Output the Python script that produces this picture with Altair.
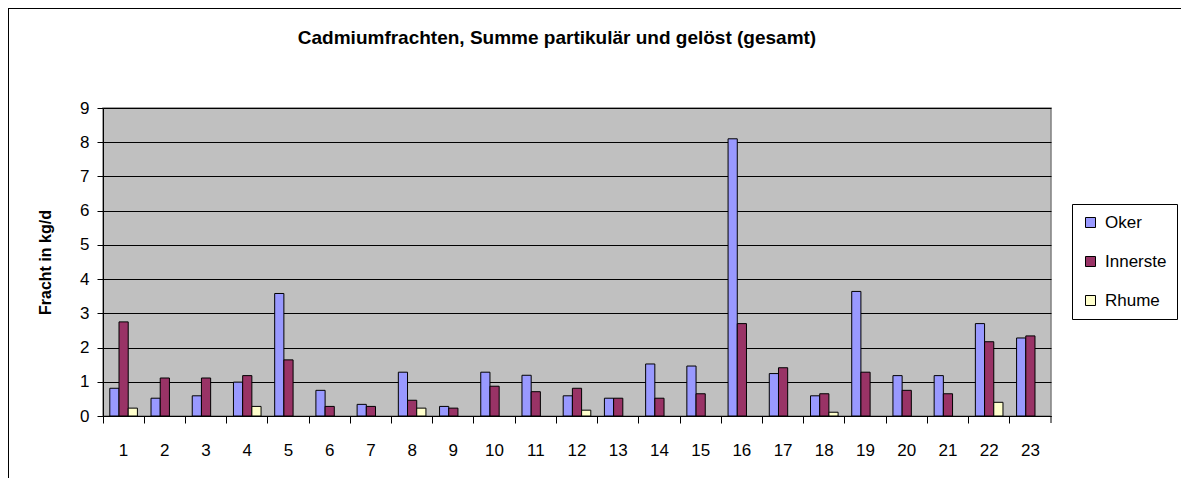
import altair as alt
import pandas as pd

categories = [str(i) for i in range(1, 24)]
series = ["Oker", "Innerste", "Rhume"]
colors = ["#9999FF", "#993366", "#FFFFCC"]

oker = [0.81, 0.52, 0.59, 0.99, 3.58, 0.75, 0.34, 1.28, 0.28, 1.28, 1.19, 0.59,
        0.52, 1.52, 1.46, 8.10, 1.24, 0.59, 3.64, 1.18, 1.18, 2.70, 2.28]
innerste = [2.75, 1.11, 1.11, 1.18, 1.64, 0.28, 0.28, 0.46, 0.23, 0.87, 0.71, 0.81,
            0.52, 0.52, 0.65, 2.70, 1.41, 0.65, 1.28, 0.75, 0.65, 2.17, 2.34]
rhume = [0.23, None, None, 0.28, None, None, None, 0.23, None, None, None, 0.17,
         None, None, None, None, None, 0.11, None, None, None, 0.40, None]

rows = []
for i, c in enumerate(categories):
    for s, vals in zip(series, [oker, innerste, rhume]):
        v = vals[i]
        if v is not None:
            rows.append({"Messstelle": c, "Fluss": s, "Fracht": v})
df = pd.DataFrame(rows)

W, H = 948, 308
FONT = "Liberation Sans"

bars = alt.Chart(df).mark_bar(stroke="black", strokeWidth=1).encode(
    x=alt.X("Messstelle:N", sort=categories,
            scale=alt.Scale(paddingInner=0, paddingOuter=0),
            axis=alt.Axis(title=None, labelAngle=0, bandPosition=0,
                          labelFontSize=17,
                          labelFont=FONT, labelColor="black", labelPadding=19,
                          tickSize=7, tickColor="black", domainColor="black",
                          grid=False)),
    xOffset=alt.XOffset("Fluss:N", sort=series,
                        scale=alt.Scale(domain=series, paddingInner=0, paddingOuter=0.74)),
    y=alt.Y("Fracht:Q",
            scale=alt.Scale(domain=[0, 9], nice=False),
            axis=alt.Axis(title="Fracht in kg/d", values=list(range(10)),
                          titleFontSize=16, titleFont=FONT, titleFontWeight="bold",
                          titleColor="black", titlePadding=26,
                          labelFontSize=17, labelFont=FONT, labelColor="black",
                          labelPadding=8, tickSize=6, tickColor="black",
                          domainColor="black", grid=True, gridColor="black",
                          gridWidth=1)),
    color=alt.Color("Fluss:N", sort=series,
                    scale=alt.Scale(domain=series, range=colors),
                    legend=alt.Legend(orient="none", legendX=969, legendY=96,
                                      title=None, strokeColor="black",
                                      fillColor="white", padding=10,
                                      symbolType="square", symbolSize=100,
                                      symbolStrokeColor="black",
                                      symbolStrokeWidth=1,
                                      labelFontSize=17, labelFont=FONT,
                                      labelColor="black", rowPadding=21,
                                      labelOffset=6, symbolOffset=0)),
)

deco = alt.Data(values=[{"k": 1}])
border_left = alt.Chart(deco).mark_rule(color="black", strokeWidth=2).encode(
    x=alt.value(-95), y=alt.value(-100), y2=alt.value(H + 70))
border_top = alt.Chart(deco).mark_rule(color="black", strokeWidth=2).encode(
    x=alt.value(-95), x2=alt.value(W + 140), y=alt.value(-100))
end_tick = alt.Chart(deco).mark_rule(color="black", strokeWidth=1).encode(
    x=alt.value(W), y=alt.value(H), y2=alt.value(H + 7))

chart = alt.layer(bars, end_tick, border_left, border_top).properties(
    width=W, height=H,
    title=alt.Title("Cadmiumfrachten, Summe partikulär und gelöst (gesamt)",
                    fontSize=19, font=FONT, fontWeight="bold", color="black",
                    anchor="middle", frame="group", offset=-41, dx=-20),
    autosize=alt.AutoSizeParams(type="none"),
    padding={"left": 95, "top": 100, "right": 130, "bottom": 62},
).configure_view(
    fill="#C0C0C0", stroke="#808080", strokeWidth=1.5
)

chart.save("out.html", embed_options={"renderer": "svg", "actions": False})
